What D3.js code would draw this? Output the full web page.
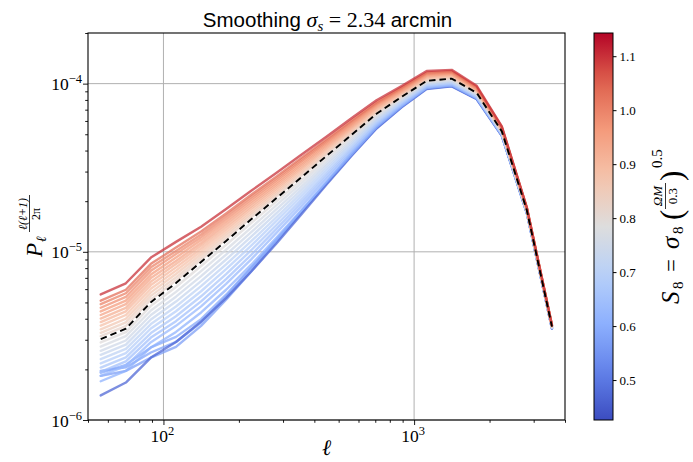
<!DOCTYPE html>
<html>
<head>
<meta charset="utf-8">
<script src="https://cdn.jsdelivr.net/npm/d3@7"></script>
<style>
  body { margin: 0; background: #fff; }
  text { font-family: "Liberation Serif", "DejaVu Serif", serif; fill: #000; }
  .sans { font-family: "Liberation Sans", "DejaVu Sans", sans-serif; }
</style>
</head>
<body>
<script>

// multipole bin centres
var ell = [56.2, 70.8, 89.1, 112.2, 141.3, 177.8, 223.9, 281.8, 354.8, 446.7, 562.3, 707.9, 891.3, 1122, 1413, 1778, 2239, 2818, 3548];

// S8 of each simulation (sets the line colour)
var s8Values = [0.57, 0.58, 0.59, 0.47,
  0.61, 0.63, 0.65, 0.67, 0.69, 0.71, 0.73, 0.75, 0.77, 0.79,
  0.82, 0.84, 0.86, 0.88, 0.90, 0.92, 0.94, 0.96, 0.98, 1.00, 1.03, 1.10];

// P_l l(l+1)/2pi for each simulation, in units of 1e-6
var spectra = [
  [1.83, 1.96, 2.35, 2.72, 3.63, 5.19, 7.64, 11.44, 17.09, 25.38, 37.57, 54.42, 72.64, 93.41, 96.82, 81.05, 49.09, 17.00, 3.51],
  [1.96, 2.06, 2.52, 2.91, 3.80, 5.43, 8.00, 11.84, 17.48, 25.67, 38.5, 55.5, 73.5, 94.2, 97.6, 81.7, 49.3, 17.05, 3.52],
  [1.91, 2.13, 2.70, 3.12, 3.98, 5.56, 8.10, 11.69, 17.28, 25.67, 37.72, 54.68, 72.98, 93.72, 97.03, 81.32, 49.19, 17.00, 3.51],
  [1.40, 1.67, 2.35, 2.91, 3.85, 5.30, 7.64, 11.17, 16.70, 25.08, 37.13, 54.09, 72.31, 92.99, 96.28, 80.70, 48.88, 16.93, 3.49],
  [1.70, 1.96, 2.70, 3.34, 4.36, 5.95, 8.38, 12.11, 17.67, 25.97, 37.97, 55.08, 73.31, 94.13, 97.46, 81.67, 49.30, 17.04, 3.51],
  [1.83, 2.10, 2.90, 3.63, 4.74, 6.45, 9.02, 12.92, 18.64, 27.12, 39.20, 56.34, 74.48, 95.17, 98.53, 82.37, 49.66, 17.12, 3.53],
  [1.93, 2.23, 3.09, 3.87, 5.07, 6.89, 9.59, 13.64, 19.53, 28.08, 40.24, 57.40, 75.39, 96.11, 99.50, 82.99, 49.87, 17.16, 3.53],
  [2.05, 2.36, 3.29, 4.14, 5.44, 7.37, 10.22, 14.39, 20.39, 29.12, 41.38, 58.45, 76.39, 97.15, 100.5, 83.78, 50.13, 17.20, 3.54],
  [2.17, 2.50, 3.50, 4.43, 5.83, 7.88, 10.87, 15.20, 21.36, 30.16, 42.42, 59.51, 77.48, 98.08, 101.3, 84.31, 50.49, 17.28, 3.55],
  [2.30, 2.65, 3.72, 4.73, 6.25, 8.42, 11.56, 16.04, 22.30, 31.28, 43.61, 60.64, 78.40, 99.02, 102.3, 84.93, 50.70, 17.32, 3.56],
  [2.44, 2.81, 3.96, 5.06, 6.69, 9.00, 12.31, 16.95, 23.35, 32.39, 44.75, 61.76, 79.48, 100.2, 103.2, 85.55, 50.91, 17.41, 3.56],
  [2.58, 2.97, 4.21, 5.41, 7.17, 9.63, 13.09, 17.87, 24.40, 33.61, 45.99, 62.96, 80.40, 101.1, 104.4, 86.25, 51.27, 17.44, 3.56],
  [2.73, 3.15, 4.48, 5.78, 7.68, 10.29, 13.93, 18.89, 25.57, 34.80, 47.17, 64.08, 81.48, 102.0, 105.4, 86.87, 51.53, 17.48, 3.57],
  [2.89, 3.33, 4.77, 6.18, 8.23, 11.00, 14.84, 19.91, 26.70, 36.10, 48.46, 65.27, 82.65, 103.2, 106.4, 87.48, 51.74, 17.56, 3.58],
  [3.15, 3.62, 5.21, 6.75, 8.96, 11.90, 15.96, 21.24, 28.23, 37.69, 50.19, 66.99, 84.15, 104.6, 107.8, 88.72, 52.26, 17.64, 3.60],
  [3.30, 3.81, 5.47, 7.05, 9.30, 12.34, 16.49, 21.84, 28.95, 38.51, 51.13, 67.92, 85.15, 105.9, 108.8, 89.33, 52.47, 17.72, 3.60],
  [3.46, 4.00, 5.74, 7.38, 9.67, 12.78, 16.99, 22.44, 29.69, 39.29, 52.07, 68.98, 86.15, 107.0, 109.9, 89.95, 52.83, 17.76, 3.61],
  [3.64, 4.21, 6.03, 7.73, 10.06, 13.22, 17.55, 23.07, 30.44, 40.22, 53.06, 69.97, 87.32, 108.1, 111.2, 90.74, 53.09, 17.81, 3.62],
  [3.82, 4.43, 6.34, 8.08, 10.46, 13.69, 18.11, 23.71, 31.16, 41.07, 54.00, 70.97, 88.32, 109.3, 112.1, 91.45, 53.35, 17.88, 3.62],
  [4.01, 4.64, 6.65, 8.46, 10.88, 14.18, 18.67, 24.38, 31.94, 41.92, 55.04, 72.09, 89.40, 110.5, 113.2, 92.06, 53.72, 17.93, 3.63],
  [4.21, 4.89, 6.98, 8.83, 11.28, 14.71, 19.28, 25.06, 32.77, 42.78, 56.03, 73.08, 90.41, 111.6, 114.3, 92.86, 53.98, 18.00, 3.63],
  [4.42, 5.13, 7.32, 9.25, 11.74, 15.22, 19.87, 25.77, 33.60, 43.70, 57.07, 74.28, 91.41, 112.8, 115.2, 93.56, 54.34, 18.06, 3.64],
  [4.65, 5.39, 7.71, 9.69, 12.21, 15.75, 20.51, 26.50, 34.49, 44.71, 58.16, 75.34, 92.74, 114.2, 116.3, 94.18, 54.60, 18.13, 3.65],
  [4.88, 5.67, 8.09, 10.12, 12.69, 16.31, 21.18, 27.23, 35.29, 45.63, 59.25, 76.33, 93.83, 115.2, 117.7, 95.06, 54.81, 18.18, 3.66],
  [5.12, 5.95, 8.48, 10.60, 13.20, 16.88, 21.84, 28.00, 36.18, 46.60, 60.34, 77.59, 94.91, 116.6, 118.8, 95.68, 55.22, 18.22, 3.67],
  [5.58, 6.50, 9.24, 11.46, 14.11, 17.97, 23.07, 29.39, 37.81, 48.34, 62.32, 79.57, 96.83, 118.8, 120.7, 97.09, 55.74, 18.34, 3.67]
];

// fiducial cosmology (black dashed), units of 1e-6
var fiducial = [3.03, 3.49, 5.02, 6.52, 8.70, 11.6, 15.6, 20.8, 27.7, 37.1, 49.5, 66.2, 83.4, 103.9, 107.1, 88.1, 52.0, 17.6, 3.59];

// tick labels
var xMajor = [100, 1000];
var xMajorLabels = ["2", "3"];
var yMajor = [1e-6, 1e-5, 1e-4];
var yMajorLabels = ["\u22126", "\u22125", "\u22124"];
var cbTicks = [0.5, 0.6, 0.7, 0.8, 0.9, 1.0, 1.1];

var unit = 1e-6;

// Chart Params
var svgWidth = 693;
var svgHeight = 462;
var plot = { left: 88, right: 565, top: 33, bottom: 420 };
var cbar = { left: 594, width: 19 };

var svg = d3.select("body")
  .append("svg")
  .attr("width", svgWidth)
  .attr("height", svgHeight);

// Create scaling functions
var xScale = d3.scaleLog()
  .domain([50, 4000])
  .range([plot.left, plot.right]);

var yScale = d3.scaleLog()
  .domain([1e-6, 2e-4])
  .range([plot.bottom, plot.top]);

var s8Scale = d3.scaleLinear()
  .domain([0.426, 1.143])
  .range([plot.bottom, plot.top]);

// matplotlib coolwarm
var coolwarm = d3.piecewise(d3.interpolateRgb, ["#3b4cc0", "#6282ea", "#8db0fe", "#b8d0f9", "#dddddd", "#f5c4ac", "#f49a7b", "#de604d", "#b40426"]);
var colorOf = function (s) {
  return coolwarm((s - s8Scale.domain()[0]) / (s8Scale.domain()[1] - s8Scale.domain()[0]));
};

// minor tick positions (2..9 x each decade)
var xMinor = [];
var yMinor = [];
[10, 100, 1000].forEach(function (d) {
  for (var i = 2; i <= 9; i++) {
    var v = d * i;
    if (v >= 50 && v <= 4000) xMinor.push(v);
  }
});
[1e-6, 1e-5, 1e-4].forEach(function (d) {
  for (var i = 2; i <= 9; i++) {
    var v = d * i;
    if (v <= 2.0001e-4) yMinor.push(v);
  }
});

// grid
svg.append("g").selectAll("line")
  .data(xMajor)
  .enter().append("line")
  .attr("x1", d => xScale(d)).attr("x2", d => xScale(d))
  .attr("y1", plot.top).attr("y2", plot.bottom)
  .attr("stroke", "#b0b0b0").attr("stroke-width", 1);

svg.append("g").selectAll("line")
  .data(yMajor)
  .enter().append("line")
  .attr("x1", plot.left).attr("x2", plot.right)
  .attr("y1", d => yScale(d)).attr("y2", d => yScale(d))
  .attr("stroke", "#b0b0b0").attr("stroke-width", 1);

// clip for lines
svg.append("clipPath").attr("id", "clip")
  .append("rect")
  .attr("x", plot.left).attr("y", plot.top)
  .attr("width", plot.right - plot.left).attr("height", plot.bottom - plot.top);

var line = d3.line()
  .x((d, i) => xScale(ell[i]))
  .y(d => yScale(d * unit));

var linesGroup = svg.append("g").attr("clip-path", "url(#clip)");

linesGroup.selectAll("path.sim")
  .data(spectra)
  .enter().append("path")
  .attr("class", "sim")
  .attr("d", line)
  .attr("fill", "none")
  .attr("stroke", (d, i) => colorOf(s8Values[i]))
  .attr("stroke-width", 2.4)
  .attr("stroke-opacity", 0.74)
  .attr("stroke-linejoin", "round")
  .attr("stroke-linecap", "round");

linesGroup.append("path")
  .datum(fiducial)
  .attr("d", line)
  .attr("fill", "none")
  .attr("stroke", "#000")
  .attr("stroke-width", 1.9)
  .attr("stroke-dasharray", "6.5,4");

// axes frame
svg.append("rect")
  .attr("x", plot.left).attr("y", plot.top)
  .attr("width", plot.right - plot.left).attr("height", plot.bottom - plot.top)
  .attr("fill", "none").attr("stroke", "#000").attr("stroke-width", 1.1);

// x ticks
svg.append("g")
  .attr("transform", `translate(0, ${plot.bottom})`)
  .call(d3.axisBottom(xScale).tickValues(xMajor).tickSize(5).tickFormat(""))
  .call(g => g.select(".domain").remove());
svg.append("g")
  .attr("transform", `translate(0, ${plot.bottom})`)
  .call(d3.axisBottom(xScale).tickValues(xMinor).tickSize(2.8).tickFormat(""))
  .call(g => g.select(".domain").remove());

// y ticks
svg.append("g")
  .attr("transform", `translate(${plot.left}, 0)`)
  .call(d3.axisLeft(yScale).tickValues(yMajor).tickSize(5).tickFormat(""))
  .call(g => g.select(".domain").remove());
svg.append("g")
  .attr("transform", `translate(${plot.left}, 0)`)
  .call(d3.axisLeft(yScale).tickValues(yMinor).tickSize(2.8).tickFormat(""))
  .call(g => g.select(".domain").remove());

svg.selectAll(".tick line").attr("stroke", "#000").attr("stroke-width", 0.9);

// tick labels as 10^n
var xLab = svg.append("g").selectAll("text")
  .data(xMajor)
  .enter().append("text")
  .attr("x", d => xScale(d) - 1)
  .attr("y", plot.bottom + 22)
  .attr("text-anchor", "middle")
  .attr("font-size", 17.5);
xLab.append("tspan").text("10");
xLab.append("tspan").attr("dy", -7).attr("font-size", 12.5).text((d, i) => xMajorLabels[i]);

var yLab = svg.append("g").selectAll("text")
  .data(yMajor)
  .enter().append("text")
  .attr("x", plot.left - 6)
  .attr("y", d => yScale(d) + 6.5)
  .attr("text-anchor", "end")
  .attr("font-size", 17.5);
yLab.append("tspan").text("10");
yLab.append("tspan").attr("dy", -7).attr("font-size", 12.5).text((d, i) => yMajorLabels[i]);

// x axis title
svg.append("text")
  .attr("x", (plot.left + plot.right) / 2)
  .attr("y", 455)
  .attr("text-anchor", "middle")
  .attr("font-size", 22)
  .attr("font-style", "italic")
  .text("\u2113");

// y axis title: P_l  l(l+1)/2pi
var yt = svg.append("g")
  .attr("transform", "translate(42, 226) rotate(-90)");
yt.append("text").attr("x", -31).attr("y", 0)
  .attr("font-size", 23).attr("font-style", "italic").text("P");
yt.append("text").attr("x", -16).attr("y", 4)
  .attr("font-size", 14).attr("font-style", "italic").text("\u2113");
yt.append("text").attr("x", 12).attr("y", -15)
  .attr("text-anchor", "middle").attr("font-size", 12).attr("font-style", "italic").text("\u2113(\u2113+1)");
yt.append("line").attr("x1", -6).attr("x2", 31).attr("y1", -12.5).attr("y2", -12.5)
  .attr("stroke", "#000").attr("stroke-width", 0.8);
yt.append("text").attr("x", 12).attr("y", -2)
  .attr("text-anchor", "middle").attr("font-size", 12).text("2\u03c0");

// title
var title = svg.append("text")
  .attr("x", (plot.left + plot.right) / 2 + 1)
  .attr("y", 27)
  .attr("text-anchor", "middle")
  .attr("font-size", 22);
title.append("tspan").attr("class", "sans").attr("font-size", 20.5).text("Smoothing ");
title.append("tspan").attr("font-style", "italic").text("\u03c3");
title.append("tspan").attr("font-style", "italic").attr("font-size", 15).attr("dy", 4).text("s");
title.append("tspan").attr("dy", -4).text(" = 2.34 ");
title.append("tspan").attr("class", "sans").attr("font-size", 20.5).text("arcmin");

// colorbar
var grad = svg.append("defs").append("linearGradient")
  .attr("id", "cw").attr("x1", 0).attr("y1", 1).attr("x2", 0).attr("y2", 0);
d3.range(0, 1.0001, 0.05).forEach(function (t) {
  grad.append("stop").attr("offset", t).attr("stop-color", coolwarm(t));
});

svg.append("rect")
  .attr("x", cbar.left).attr("y", plot.top)
  .attr("width", cbar.width).attr("height", plot.bottom - plot.top)
  .attr("fill", "url(#cw)")
  .attr("stroke", "#000").attr("stroke-width", 1);

svg.append("g")
  .attr("transform", `translate(${cbar.left + cbar.width}, 0)`)
  .call(d3.axisRight(s8Scale).tickValues(cbTicks).tickSize(3.5).tickPadding(3).tickFormat(d3.format(".1f")))
  .call(g => g.select(".domain").remove())
  .call(g => g.selectAll("text").attr("font-size", 13).attr("fill", "#000")
    .style("font-family", "'Liberation Serif', 'DejaVu Serif', serif"))
  .call(g => g.selectAll("line").attr("stroke", "#000"));

// colorbar label: S8 = sigma8 (Omega_M / 0.3)^0.5
var cl = svg.append("g")
  .attr("transform", "translate(679, 304) rotate(-90)");
cl.append("text").attr("x", 0).attr("y", 0)
  .attr("font-size", 25).attr("font-style", "italic").text("S");
cl.append("text").attr("x", 15).attr("y", 4).attr("font-size", 15).text("8");
cl.append("text").attr("x", 32).attr("y", 0).attr("font-size", 23).text("=");
cl.append("text").attr("x", 55).attr("y", 0)
  .attr("font-size", 25).attr("font-style", "italic").text("\u03c3");
cl.append("text").attr("x", 70).attr("y", 4).attr("font-size", 15).text("8");
cl.append("text").attr("x", 84).attr("y", 3).attr("font-size", 31).text("(");
cl.append("text").attr("x", 108).attr("y", -17).attr("text-anchor", "middle")
  .attr("font-size", 13).attr("font-style", "italic").text("\u03a9M");
cl.append("line").attr("x1", 95).attr("x2", 121).attr("y1", -13.5).attr("y2", -13.5)
  .attr("stroke", "#000").attr("stroke-width", 0.8);
cl.append("text").attr("x", 108).attr("y", -2).attr("text-anchor", "middle")
  .attr("font-size", 13).text("0.3");
cl.append("text").attr("x", 123).attr("y", 3).attr("font-size", 31).text(")");
cl.append("text").attr("x", 136).attr("y", -17).attr("font-size", 15).text("0.5");

</script>
</body>
</html>
